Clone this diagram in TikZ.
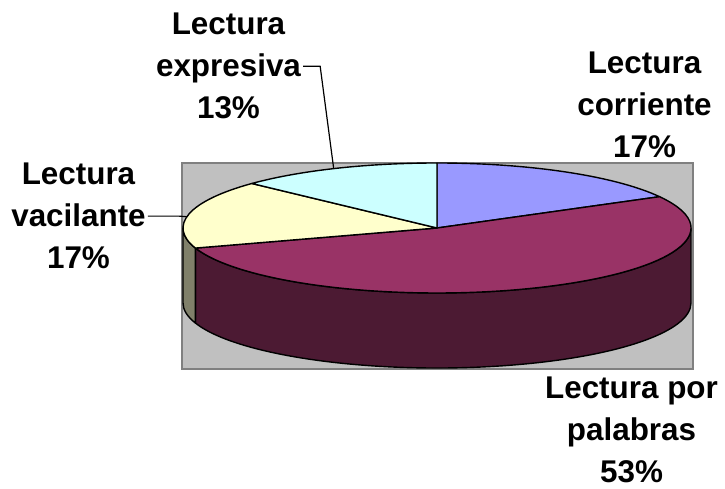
\documentclass[tikz,border=0pt]{standalone}
\usepackage{fontspec}
\setmainfont{Liberation Sans}
\definecolor{sliceblue}{HTML}{9999FF}
\definecolor{slicepurple}{HTML}{993366}
\definecolor{sliceyellow}{HTML}{FFFFCC}
\definecolor{slicecyan}{HTML}{CCFFFF}
\definecolor{sidepurple}{HTML}{4C1A33}
\definecolor{sideyellow}{HTML}{80806A}
\definecolor{plotgray}{HTML}{C0C0C0}
\definecolor{plotborder}{HTML}{808080}
\begin{document}
\begin{tikzpicture}[x=1pt,y=1pt,
  lbl/.style={font=\fontsize{31.4}{42}\selectfont\bfseries, align=center, inner xsep=2pt, inner ysep=0pt, anchor=north},
  edge/.style={draw=black, line width=1.4pt, line join=round},
  leader/.style={draw=black, line width=1.2pt},
  pie/.style={x radius=254, y radius=65}]
\useasboundingbox (0,0) rectangle (725,489);
\fill[white] (0,0) rectangle (725,489);
% plot area
\draw[draw=plotborder, fill=plotgray, line width=1.5pt] (182,120) rectangle (693,326);
\coordinate (C) at (437,261);
% front sides
\filldraw[edge, fill=sidepurple] ([shift={(C)}]0:254 and 65) arc[start angle=0, end angle=-162, pie] -- ++(0,-75) arc[start angle=-162, end angle=0, pie] -- cycle;
\filldraw[edge, fill=sideyellow] ([shift={(C)}]-162:254 and 65) arc[start angle=-162, end angle=-180, pie] -- ++(0,-75) arc[start angle=-180, end angle=-162, pie] -- cycle;
% top slices
\filldraw[edge, fill=sliceblue] (C) -- ([shift={(C)}]90:254 and 65) arc[start angle=90, end angle=28.8, pie] -- cycle;
\filldraw[edge, fill=slicepurple] (C) -- ([shift={(C)}]28.8:254 and 65) arc[start angle=28.8, end angle=-162, pie] -- cycle;
\filldraw[edge, fill=sliceyellow] (C) -- ([shift={(C)}]-162:254 and 65) arc[start angle=-162, end angle=-223.2, pie] -- cycle;
\filldraw[edge, fill=slicecyan] (C) -- ([shift={(C)}]-223.2:254 and 65) arc[start angle=-223.2, end angle=-270, pie] -- cycle;
% leader end points
\coordinate (pexp) at ([shift={(C)}]114:254 and 65);
\coordinate (pvac) at ([shift={(C)}]170:254 and 65);
% labels
\node[lbl] (lblexp) at (228.5,476) {Lectura\\expresiva\\13\%};
\node[lbl] (lblvac) at (78.5,326) {Lectura\\vacilante\\17\%};
\node[lbl] (lblcor) at (644.5,437) {Lectura\\corriente\\17\%};
\node[lbl] (lblpal) at (631.5,112) {Lectura por\\palabras\\53\%};
% leaders
\draw[leader] (lblexp.east) -- ++(17,0) -- (pexp);
\draw[leader] (lblvac.east) -- ++(31,0) -- (pvac);
\end{tikzpicture}
\end{document}
